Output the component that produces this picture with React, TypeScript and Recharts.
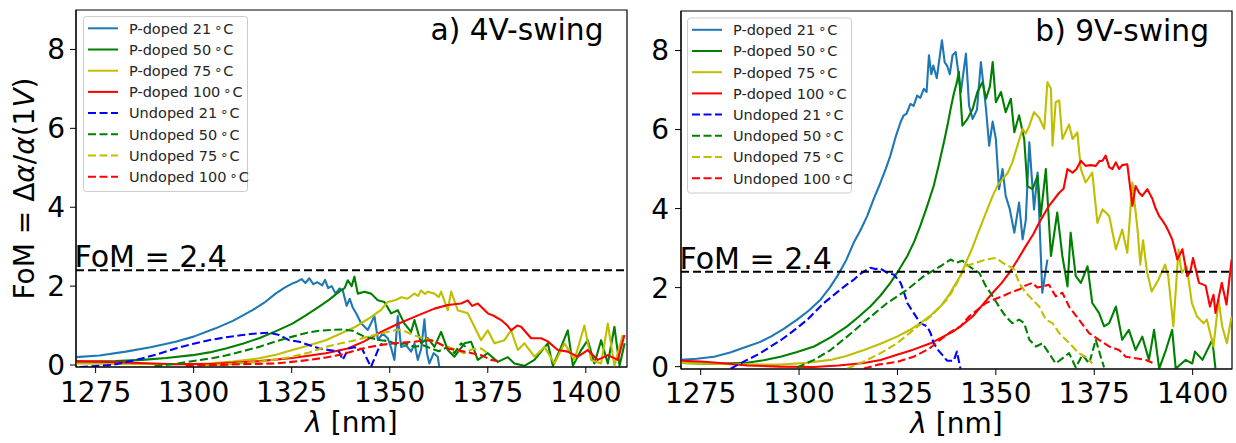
import { LineChart, Line, XAxis, YAxis, ReferenceLine, ReferenceArea } from 'recharts';

type Pt = [number, number];

const FONT = '"DejaVu Sans", sans-serif';

const wavelengthTicks = [1275, 1300, 1325, 1350, 1375, 1400];
const fomTicks = [0, 2, 4, 6, 8];
const fomThreshold = 2.4;

const seriesLabels = ['P-doped 21', 'P-doped 50', 'P-doped 75', 'P-doped 100', 'Undoped 21', 'Undoped 50', 'Undoped 75', 'Undoped 100'];

// a) 4V-swing, [wavelength nm, FoM]
const pDoped21_4V: Pt[] = [
  [1270, 0.2], [1276, 0.24], [1282.7, 0.34], [1289, 0.45], [1295.4, 0.59], [1300, 0.72], [1305.6, 0.93], [1310, 1.12],
  [1315, 1.39], [1318, 1.58], [1320.9, 1.81], [1323, 1.95], [1325.2, 2.07], [1326.5, 2.12], [1327.5, 2.18], [1328.5, 2.08],
  [1329.5, 2.2], [1330.5, 2.05], [1331.5, 2.1], [1332.8, 2.02], [1333.5, 2.16], [1334.3, 1.95], [1335.2, 2.0], [1336.2, 1.81],
  [1337.2, 1.94], [1338, 1.9], [1339, 1.5], [1339.8, 1.68], [1340.6, 1.45], [1341.5, 1.3], [1342.7, 1.06], [1344.4, 0.89],
  [1346.1, 1.24], [1347, 0.63], [1348.2, 0.8], [1349.5, 0.68], [1350.3, 0.45], [1351.2, 0.13], [1352.05, 1.24], [1352.9, 0.46],
  [1354.2, 0.5], [1355.45, 0.34], [1356.3, 0.55], [1357.15, 0.13], [1358, 0.4], [1358.85, 1.16], [1359.5, 0.3], [1360.1, 0.04],
  [1361.2, 0.3], [1362.25, 0.21], [1362.7, -0.1],
];
const pDoped50_4V: Pt[] = [
  [1270, 0.08], [1280, 0.1], [1286.9, 0.13], [1293, 0.18], [1299.7, 0.25], [1304, 0.32], [1308.2, 0.42], [1312.5, 0.54],
  [1316.7, 0.68], [1321, 0.86], [1325.2, 1.05], [1328.5, 1.25], [1332, 1.48], [1334.5, 1.65], [1337.1, 1.86], [1338.5, 1.95],
  [1339.3, 2.15], [1340.3, 2.0], [1341, 2.24], [1341.85, 1.81], [1343.55, 1.86], [1345.25, 1.81], [1346.95, 1.64], [1348.65, 1.6],
  [1350.35, 1.31], [1352.05, 1.39], [1353.75, 1.05], [1355.45, 0.84], [1356.3, 1.14], [1358, 0.55], [1359.7, 0.68], [1361.4, 0.46],
  [1363.1, 0.84], [1364.8, 0.38], [1366.5, 0.21], [1369.05, 0.55], [1370.75, 0.59], [1372.45, 0.13], [1375, 0.3], [1377.55, 0.08],
  [1380.1, 0.2], [1381.8, 0.04], [1384.35, -0.02], [1386.9, 0.13], [1390.3, 0.55], [1391.6, -0.02], [1393.7, 0.46], [1395.4, 0.88],
  [1396.7, -0.02], [1398.8, 0.38], [1400.5, 0.63], [1402.2, 0.04], [1403.9, 0.63], [1405.6, 0.04], [1407.3, 0.97], [1408.6, -0.02],
  [1409.9, 0.55],
];
const pDoped75_4V: Pt[] = [
  [1270, 0.04], [1285, 0.03], [1295, 0.02], [1303.9, 0.04], [1310, 0.09], [1316.7, 0.17], [1321, 0.26], [1325.2, 0.38],
  [1329.5, 0.5], [1333.7, 0.63], [1337.5, 0.8], [1341.3, 0.97], [1345, 1.2], [1347.8, 1.4], [1349.5, 1.6], [1351.5, 1.65],
  [1353, 1.72], [1354.5, 1.68], [1356.3, 1.81], [1357.2, 1.75], [1358, 1.89], [1359, 1.8], [1359.7, 1.86], [1361.4, 1.81],
  [1362.5, 1.72], [1363.1, 1.86], [1364.8, 1.39], [1365.65, 1.86], [1367.35, 1.39], [1369.9, 1.31], [1371.6, 0.97], [1373.3, 0.63],
  [1375, 0.88], [1376.7, 0.55], [1379.25, 0.63], [1380.95, 0.88], [1382.65, 0.38], [1384.35, 0.55], [1386.9, 0.21], [1389.45, 0.46],
  [1392, 0.04], [1394.55, 0.55], [1397.1, 0.13], [1399.65, 1.0], [1401.35, 0.13], [1403.9, 0.04], [1405.6, 1.05], [1407.3, -0.02],
  [1409.4, 0.76],
];
const pDoped100_4V: Pt[] = [
  [1270, 0.1], [1278, 0.08], [1286, 0.05], [1295.4, 0.02], [1305, 0.03], [1312, 0.07], [1316.7, 0.1], [1325.2, 0.18],
  [1333.7, 0.3], [1339.3, 0.42], [1343.5, 0.6], [1347.8, 0.84], [1352, 1.04], [1356.3, 1.22], [1361.4, 1.43], [1364.8, 1.52],
  [1368.2, 1.56], [1369.9, 1.64], [1371, 1.5], [1372.45, 1.56], [1375, 1.31], [1376.5, 1.25], [1378.4, 1.14], [1380, 1.0],
  [1380.95, 0.88], [1382.5, 1.0], [1383.5, 0.97], [1386.05, 0.68], [1388.6, 0.68], [1390.3, 0.6], [1392.85, 0.38], [1395.4, 0.34],
  [1397.95, 0.21], [1400.5, 0.38], [1403.05, 0.13], [1405.6, 0.25], [1408.15, 0.13], [1409.85, 0.76],
];
const undoped21_4V: Pt[] = [
  [1271, -0.05], [1276, -0.02], [1279, 0.0], [1283, 0.08], [1287, 0.17], [1291, 0.28], [1295.4, 0.42], [1300, 0.54],
  [1303.9, 0.63], [1308, 0.7], [1312.4, 0.76], [1316, 0.8], [1319.2, 0.82], [1321.8, 0.76], [1324.3, 0.63], [1326.9, 0.59],
  [1329.4, 0.51], [1332, 0.42], [1334.5, 0.38], [1337.1, 0.34], [1338, 0.13], [1339.5, 0.42], [1341, 0.45], [1343, 0.4],
  [1345.2, -0.05], [1347, 0.38], [1348, 0.55],
];
const undoped50_4V: Pt[] = [
  [1290, -0.03], [1296, 0.04], [1301, 0.12], [1305, 0.18], [1308.2, 0.24], [1312.5, 0.35], [1316.7, 0.46], [1321, 0.6],
  [1325.2, 0.72], [1329, 0.82], [1332, 0.87], [1335, 0.89], [1338, 0.9], [1340.5, 0.87], [1343.5, 0.72], [1347.8, 0.63],
  [1350, 0.6], [1352, 0.51], [1354, 0.55], [1356.3, 0.46], [1358.5, 0.5], [1360.6, 0.42], [1362.5, 0.35], [1364.8, 0.46],
  [1366.5, 0.3], [1368.2, 0.55], [1369.5, 0.45],
];
const undoped75_4V: Pt[] = [
  [1302, -0.02], [1310, 0.03], [1316.7, 0.08], [1321, 0.14], [1325.2, 0.21], [1329.5, 0.32], [1333.7, 0.46], [1337.5, 0.55],
  [1341.3, 0.63], [1344.5, 0.72], [1347.8, 0.8], [1350, 0.85], [1352, 0.9], [1354, 0.85], [1356.3, 0.75], [1358.5, 0.68],
  [1360.6, 0.63], [1362.5, 0.55], [1364.8, 0.46], [1367, 0.38], [1369, 0.3], [1371, 0.4], [1373.3, 0.42], [1375, 0.3],
];
const undoped100_4V: Pt[] = [
  [1298, -0.02], [1305, 0.0], [1312, 0.02], [1316, 0.03], [1320.9, 0.04], [1325, 0.08], [1329.4, 0.13], [1333.7, 0.19],
  [1337.9, 0.27], [1341, 0.36], [1344, 0.44], [1347.8, 0.51], [1352, 0.56], [1356.3, 0.59], [1358.5, 0.62], [1360.6, 0.63],
  [1362.5, 0.55], [1364.8, 0.42], [1367, 0.38], [1369, 0.34], [1371, 0.3], [1373.3, 0.25], [1375.8, 0.13], [1377.5, 0.1],
];

// b) 9V-swing
const pDoped21_9V: Pt[] = [
  [1270, 0.17], [1274, 0.2], [1278.4, 0.25], [1282.5, 0.36], [1286.8, 0.51], [1290, 0.62], [1292.8, 0.76], [1296, 0.95],
  [1299.5, 1.19], [1302.5, 1.42], [1305.5, 1.7], [1307.8, 2.0], [1309.7, 2.29], [1312, 2.7], [1313.9, 3.14], [1315.6, 3.45],
  [1317.3, 3.81], [1319, 4.25], [1320.7, 4.66], [1322, 5.0], [1323.2, 5.34], [1324.5, 5.8], [1325.8, 6.19], [1326.6, 6.36],
  [1327.3, 6.4], [1328.3, 6.65], [1329.1, 6.6], [1330, 6.86], [1330.8, 6.8], [1331.7, 7.03], [1332.4, 6.95], [1333, 7.88],
  [1333.6, 7.4], [1334.1, 7.62], [1335, 7.3], [1336.3, 8.26], [1337, 7.7], [1337.6, 7.62], [1338.3, 7.4], [1339, 7.88],
  [1339.8, 7.96], [1341.1, 6.95], [1342.4, 7.92], [1343.2, 6.6], [1344.1, 6.27], [1345.2, 6.5], [1346.2, 7.71], [1347.5, 6.52],
  [1348.3, 5.59], [1349.2, 6.2], [1350, 5.76], [1350.8, 4.49], [1351.7, 5.0], [1352.5, 4.32], [1353.5, 4.0], [1354.7, 3.39],
  [1355.9, 4.15], [1356.8, 3.22], [1357.6, 3.7], [1358.5, 5.68], [1359.7, 3.98], [1360.6, 4.91], [1361.8, 1.87], [1363.1, 2.71],
];
const pDoped50_9V: Pt[] = [
  [1270, 0.09], [1278, 0.07], [1286.8, 0.1], [1291, 0.16], [1295.3, 0.25], [1299.5, 0.37], [1303.8, 0.51], [1308, 0.74],
  [1312.2, 1.02], [1315, 1.25], [1318.1, 1.52], [1320.7, 1.8], [1323.2, 2.12], [1325.4, 2.45], [1327.5, 2.8], [1329.2, 3.15],
  [1330.8, 3.56], [1332.5, 4.05], [1334.2, 4.57], [1335.5, 5.1], [1336.8, 5.68], [1337.7, 6.1], [1338.5, 6.52], [1339.3, 6.9],
  [1340.1, 7.2], [1340.6, 7.46], [1341.5, 6.1], [1342.8, 6.27], [1344.1, 6.52], [1345.3, 6.95], [1346.6, 7.2], [1347.5, 6.78],
  [1348.5, 7.1], [1349.2, 7.71], [1350, 6.69], [1351.3, 6.95], [1352.5, 6.44], [1353.8, 6.78], [1354.7, 5.93], [1355.9, 6.36],
  [1357.2, 5.76], [1358, 4.57], [1359.3, 4.49], [1360.6, 4.83], [1361.4, 3.81], [1362.7, 5.0], [1364, 2.8], [1365.6, 3.9],
  [1366.9, 2.8], [1368.2, 2.03], [1369, 3.39], [1370.3, 2.29], [1371.6, 2.12], [1373.3, 2.54], [1374.5, 1.61], [1376.2, 1.36],
  [1377.5, 1.02], [1378.8, 1.1], [1380.5, 1.52], [1382.1, 0.68], [1383.8, 0.93], [1385.5, 0.42], [1387.2, 0.76], [1388.9, 0.17],
  [1390.2, 0.93], [1391.5, -0.05], [1393.2, 0.42], [1394.8, 0.93], [1395.7, -0.05], [1398.2, 0.17], [1399.9, 0.08], [1400.6, 0.38],
  [1402.5, 0.17], [1405, 0.68], [1405.8, -0.05],
];
const pDoped75_9V: Pt[] = [
  [1270, 0.09], [1280, 0.07], [1290, 0.05], [1295.3, 0.05], [1302, 0.1], [1308, 0.17], [1312, 0.27], [1316.5, 0.42],
  [1320.7, 0.58], [1324.9, 0.76], [1328, 0.92], [1330.8, 1.1], [1333.5, 1.3], [1335.9, 1.52], [1338, 1.8], [1339.5, 2.05],
  [1341, 2.3], [1342.4, 2.63], [1344, 3.0], [1345.8, 3.47], [1347.5, 3.9], [1349.2, 4.32], [1350.5, 4.6], [1351.7, 4.74],
  [1353, 4.9], [1354.2, 5.17], [1355.5, 5.6], [1356.8, 6.02], [1357.6, 5.9], [1358.5, 6.1], [1359.7, 6.44], [1361, 6.3],
  [1362.3, 6.02], [1363.1, 7.2], [1364, 7.03], [1364.4, 5.59], [1365.2, 6.69], [1366.1, 6.74], [1366.9, 5.76], [1368.6, 6.13],
  [1369.5, 5.76], [1370.7, 5.93], [1371.6, 5.0], [1372.8, 4.66], [1374.5, 4.91], [1375.8, 3.64], [1377.1, 3.98], [1378.8, 3.81],
  [1380.5, 2.97], [1382.1, 3.47], [1383.4, 2.88], [1384.7, 4.66], [1386, 3.47], [1386.7, 2.58], [1387.4, 3.2], [1388.4, 2.4],
  [1389.6, 1.9], [1391.3, 2.2], [1393, 2.58], [1393.8, 2.29], [1395.1, 1.02], [1396.4, 2.96], [1397.2, 2.37], [1398.5, 2.54],
  [1399.8, 1.61], [1401.1, 1.27], [1402.8, 1.1], [1403.6, 1.19], [1405.3, 0.51], [1406.6, 1.69], [1407.5, 1.02], [1408.7, 0.59],
  [1409.9, 1.27],
];
const pDoped100_9V: Pt[] = [
  [1270, 0.15], [1275, 0.13], [1280, 0.09], [1286.8, 0.03], [1295, 0.0], [1303.8, -0.01], [1310, 0.03], [1316.5, 0.09],
  [1320.7, 0.17], [1324.9, 0.3], [1329, 0.43], [1333.4, 0.59], [1337, 0.78], [1339, 0.88], [1341, 1.02], [1344.1, 1.27],
  [1346.5, 1.55], [1349.2, 1.87], [1351.5, 2.12], [1353.4, 2.37], [1355.5, 2.7], [1357.6, 3.05], [1359.5, 3.35], [1361, 3.64],
  [1363.5, 4.07], [1366.1, 4.4], [1367.2, 4.5], [1368.2, 5.0], [1369.5, 4.91], [1370.5, 5.0], [1371.6, 5.21], [1372.8, 5.08],
  [1374, 5.1], [1375.4, 5.08], [1376.3, 5.2], [1377.1, 5.21], [1377.9, 5.34], [1378.8, 5.05], [1379.6, 5.0], [1380.5, 5.17],
  [1381.3, 5.0], [1382.1, 5.1], [1383.4, 5.12], [1384.7, 4.07], [1385.5, 4.57], [1386.4, 4.4], [1387.2, 4.32], [1388.5, 4.49],
  [1389.8, 4.24], [1390.6, 4.0], [1391.5, 3.81], [1392.3, 3.7], [1393.2, 3.56], [1394, 3.4], [1394.8, 3.22], [1395.5, 2.96],
  [1396.1, 2.71], [1397.4, 2.97], [1398.6, 2.29], [1399.4, 2.4], [1400.1, 2.75], [1401.6, 2.12], [1403.3, 2.05], [1404.4, 1.52],
  [1405.3, 1.82], [1405.8, 1.36], [1407.4, 2.12], [1408.6, 1.57], [1409.9, 2.71],
];
const undoped21_9V: Pt[] = [
  [1282.6, -0.05], [1286.8, 0.17], [1290, 0.33], [1292.8, 0.51], [1295.5, 0.68], [1297.8, 0.85], [1300, 1.02], [1302.1, 1.19],
  [1304.2, 1.4], [1306.3, 1.61], [1308.4, 1.78], [1310.5, 1.95], [1312.2, 2.08], [1313.9, 2.2], [1315.2, 2.32], [1316.5, 2.41],
  [1318.1, 2.5], [1319.4, 2.47], [1320.7, 2.48], [1322.4, 2.37], [1324.1, 2.33], [1325.8, 2.12], [1326.6, 1.9], [1327.5, 1.61],
  [1329.1, 1.36], [1330.8, 1.1], [1332.5, 1.02], [1333.4, 0.85], [1334.2, 0.59], [1335.5, 0.4], [1336.8, 0.25], [1337.6, 0.15],
  [1339.3, 0.15], [1340.1, 0.38], [1341, -0.05],
];
const undoped50_9V: Pt[] = [
  [1299.5, -0.02], [1303.8, 0.17], [1308, 0.42], [1312.2, 0.76], [1317.3, 1.19], [1322.4, 1.61], [1327.5, 1.95], [1331.7, 2.29],
  [1335.9, 2.54], [1338.5, 2.71], [1340, 2.63], [1341.5, 2.68], [1343.2, 2.54], [1345.8, 2.37], [1347.5, 2.03], [1349.2, 1.78],
  [1350.8, 1.52], [1352.5, 1.27], [1354.2, 1.1], [1355.9, 1.19], [1357.2, 1.1], [1358.5, 0.68], [1360.2, 0.51], [1361.8, 0.59],
  [1363.5, 0.34], [1365.2, 0.08], [1366.9, 0.21], [1368.6, 0.34], [1370.3, -0.02], [1372, 0.3], [1373.7, 0.08], [1375.4, 0.68],
  [1376.5, 0.3], [1377.5, -0.02],
];
const undoped75_9V: Pt[] = [
  [1312.2, -0.05], [1316.5, 0.13], [1320.7, 0.34], [1324.9, 0.59], [1329.1, 0.93], [1333.4, 1.27], [1337.6, 1.7], [1339.5, 2.0],
  [1341, 2.3], [1342.4, 2.54], [1344.9, 2.63], [1347.5, 2.71], [1350, 2.75], [1351.7, 2.63], [1353.4, 2.54], [1354.7, 2.46],
  [1355.9, 2.12], [1357.6, 1.87], [1359.3, 1.7], [1361, 1.52], [1362.7, 1.19], [1364.4, 1.1], [1366.1, 0.85], [1367.8, 0.68],
  [1369.5, 0.51], [1371.1, 0.34], [1372.8, 0.25], [1374.5, 0.08],
];
const undoped100_9V: Pt[] = [
  [1316.5, -0.05], [1320, 0.05], [1324.9, 0.12], [1329.1, 0.25], [1333, 0.45], [1335.9, 0.68], [1338.5, 0.88], [1341, 1.02],
  [1343.2, 1.27], [1345.5, 1.45], [1347.5, 1.61], [1349.5, 1.7], [1351.7, 1.78], [1353.8, 1.88], [1355.9, 1.95], [1357.5, 2.05],
  [1359.3, 2.12], [1360.5, 2.0], [1361.8, 2.03], [1363.5, 2.07], [1365.2, 1.78], [1366.9, 1.87], [1368.6, 1.52], [1371.1, 1.19],
  [1373.7, 0.85], [1376.2, 0.68], [1378.8, 0.51], [1381.3, 0.42], [1383, 0.25], [1385.5, 0.21], [1388.1, 0.17], [1389.8, 0.1],
];

const series4V = [pDoped21_4V, pDoped50_4V, pDoped75_4V, pDoped100_4V, undoped21_4V, undoped50_4V, undoped75_4V, undoped100_4V];
const series9V = [pDoped21_9V, pDoped50_9V, pDoped75_9V, pDoped100_9V, undoped21_9V, undoped50_9V, undoped75_9V, undoped100_9V];

const lineStyles = [
  { color: '#1f77b4', dash: undefined },
  { color: '#008000', dash: undefined },
  { color: '#bfbf00', dash: undefined },
  { color: '#ff0000', dash: undefined },
  { color: '#0000ff', dash: '8 3.5' },
  { color: '#008000', dash: '8 3.5' },
  { color: '#bfbf00', dash: '8 3.5' },
  { color: '#ff0000', dash: '8 3.5' },
];

const toPoints = (pairs: Pt[]) => pairs.map(([x, y]) => ({ x, y }));

interface PanelProps {
  series: Pt[][];
  width: number;
  xDomain: [number, number];
  yDomain: [number, number];
  yAxisWidth: number;
  xAxisHeight: number;
  margin: { top: number; right: number; bottom: number; left: number };
  xTickMargin: number;
  yTickMargin: number;
}

function SwingPanel({ series, width, xDomain, yDomain, yAxisWidth, xAxisHeight, margin, xTickMargin, yTickMargin }: PanelProps) {
  const tickStyle = { fill: '#000', fontSize: 28, fontFamily: FONT };
  return (
    <LineChart width={width} height={443} margin={margin}>
      <XAxis
        type="number"
        dataKey="x"
        domain={xDomain}
        ticks={wavelengthTicks}
        interval={0}
        allowDataOverflow
        height={xAxisHeight}
        tickSize={6}
        tickMargin={xTickMargin}
        stroke="#000"
        tick={tickStyle}
      />
      <YAxis
        type="number"
        domain={yDomain}
        ticks={fomTicks}
        interval={0}
        allowDataOverflow
        width={yAxisWidth}
        tickSize={6}
        tickMargin={yTickMargin}
        stroke="#000"
        tick={tickStyle}
      />
      {/* axes frame */}
      <ReferenceArea
        x1={xDomain[0]}
        x2={xDomain[1]}
        y1={yDomain[0]}
        y2={yDomain[1]}
        fill="none"
        fillOpacity={0}
        stroke="#000"
        strokeWidth={1.2}
        ifOverflow="visible"
      />
      {series.map((pairs, i) => (
        <Line
          key={seriesLabels[i]}
          data={toPoints(pairs)}
          dataKey="y"
          type="linear"
          stroke={lineStyles[i].color}
          strokeWidth={2.1}
          strokeDasharray={lineStyles[i].dash}
          strokeLinejoin="round"
          dot={false}
          activeDot={false}
          isAnimationActive={false}
        />
      ))}
      <ReferenceLine
        y={fomThreshold}
        stroke="#000"
        strokeWidth={2}
        strokeDasharray="8 4"
        label={(p: any) => {
          const vb = p?.viewBox ?? { x: 0, y: 0 };
          return (
            <text x={vb.x - 1.5} y={vb.y - 3} fontSize={30} fontFamily={FONT} fill="#000">
              {`FoM = ${fomThreshold}`}
            </text>
          );
        }}
      />
    </LineChart>
  );
}

function LegendBox({ x, y }: { x: number; y: number }) {
  return (
    <g transform={`translate(${x},${y})`}>
      <rect x={0.5} y={0.5} width={164} height={175} rx={3} fill="#fff" fillOpacity={0.8} stroke="#cccccc" />
      {seriesLabels.map((label, i) => {
        const cy = 12.3 + i * 21.2;
        return (
          <g key={label}>
            <line x1={5} x2={35} y1={cy} y2={cy} stroke={lineStyles[i].color} strokeWidth={2} strokeDasharray={lineStyles[i].dash} />
            <text x={46} y={cy + 5.3} fontSize={14.5} fontFamily={FONT} fill="#262626">
              {label}
              <tspan dx={3} dy={-2} fontSize={13}>∘</tspan>
              <tspan dx={1} dy={2}>C</tspan>
            </text>
          </g>
        );
      })}
    </g>
  );
}

export default function App() {
  return (
    <div style={{ position: 'absolute', left: 0, top: 0, width: 1236, height: 443, background: '#fff' }}>
      <div style={{ position: 'absolute', left: 0, top: 0 }}>
        <SwingPanel
          series={series4V}
          width={640}
          xDomain={[1270, 1410.5]}
          yDomain={[-0.05, 9]}
          yAxisWidth={76}
          xAxisHeight={76}
          margin={{ top: 10, right: 13, bottom: 0, left: 0 }}
          xTickMargin={9}
          yTickMargin={5}
        />
      </div>
      <div style={{ position: 'absolute', left: 640, top: 0 }}>
        <SwingPanel
          series={series9V}
          width={596}
          xDomain={[1270, 1410]}
          yDomain={[-0.06, 9]}
          yAxisWidth={41}
          xAxisHeight={74}
          margin={{ top: 11, right: 4, bottom: 0, left: 0 }}
          xTickMargin={8}
          yTickMargin={6}
        />
      </div>
      <svg width={1236} height={443} style={{ position: 'absolute', left: 0, top: 0, pointerEvents: 'none' }}>
        <g fontFamily={FONT} fill="#000" fontSize={28}>
          <text transform="translate(34,188.5) rotate(-90)" textAnchor="middle">
            FoM = Δ<tspan fontStyle="italic">α</tspan>/<tspan fontStyle="italic">α</tspan>(1<tspan fontStyle="italic">V</tspan>)
          </text>
          <text x={351.5} y={432} textAnchor="middle">
            <tspan fontStyle="italic">λ</tspan> [nm]
          </text>
          <text x={956.5} y={433} textAnchor="middle">
            <tspan fontStyle="italic">λ</tspan> [nm]
          </text>
          <text x={603.5} y={40} textAnchor="end" fontSize={29.7}>a) 4V-swing</text>
          <text x={1209} y={41} textAnchor="end" fontSize={29.7}>b) 9V-swing</text>
        </g>
        <LegendBox x={83} y={16} />
        <LegendBox x={687} y={17.5} />
      </svg>
    </div>
  );
}
